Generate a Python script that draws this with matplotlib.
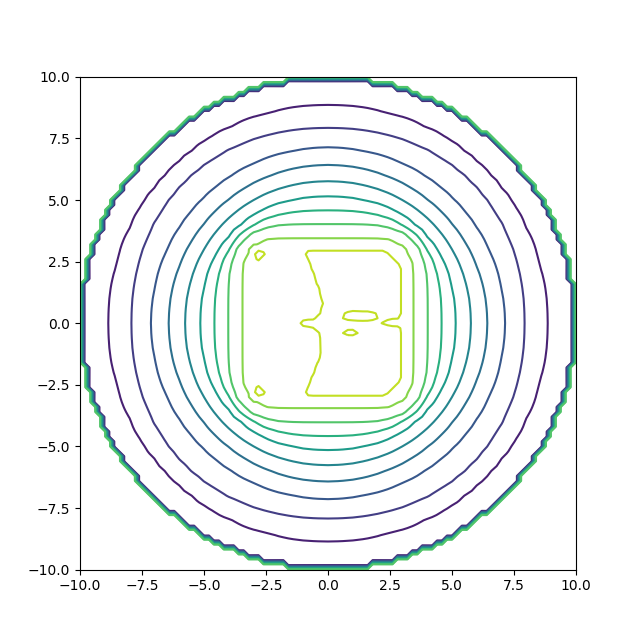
import numpy as np
import matplotlib.pyplot as plt

# contour levels (colours run over the whole 0..11 range)
levels = list(range(12))

level_z = [0.0, 1, 2, 3, 4, 5, 6, 7, 8, 9, 9.6, 9.9]
level_r = [10.3, 8.8, 7.92, 7.13, 6.42, 5.75, 5.14, 4.58, 4.02, 3.5, 2.5, 0.0]
level_p = [2.0, 2.05, 2.2, 2.0, 2.0, 2.1, 2.2, 2.7, 4.4, 8.7, 8.7, 8.7]

# outside the disc the field jumps up
edge_r = 9.95
outside_z = 8.5

# the "D" shaped plateau above level 10
plateau_z = 10.5
plateau_half = 2.95
plateau_cut = 5.25
plateau_left_y = [-2.9, -2.56, -1.89, -1.21, -0.47, -0.2, -0.06, 0.11, 0.34, 0.88, 1.49, 2.45, 2.95]
plateau_left_x = [-0.93, -0.79, -0.52, -0.26, -0.26, -0.59, -1.33, -0.59, -0.26, -0.19, -0.39, -0.73, -0.97]
corner_cut = 5.35

# small dips inside the plateau
dip_cx = [1.3, 0.9, 1.0, 2.75]
dip_cy = [0.28, -0.38, 0.72, 0.03]
dip_rx = [0.75, 0.3, 0.18, 0.6]
dip_ry = [0.22, 0.16, 0.06, 0.16]

# coarse grid the smooth part is sampled on, fine grid it is drawn on
xc = np.linspace(-10, 10, 41)
x = np.linspace(-10, 10, 101)

XC, YC = np.meshgrid(xc, xc)
AX, AY = np.abs(XC), np.abs(YC)
G = np.array([(AX**p + AY**p)**(1.0 / p) - r for p, r in zip(level_p, level_r)])
z = np.array(level_z)
j = (G <= 0).sum(axis=0) - 1
jc = np.clip(j, 0, len(z) - 2)
g0 = np.take_along_axis(G, jc[None], 0)[0]
g1 = np.take_along_axis(G, (jc + 1)[None], 0)[0]
t = np.clip(-g0 / (g1 - g0), 0, 1)
Zc = z[jc] + t * (z[jc + 1] - z[jc])

# bilinear resample onto the fine grid
rows = np.array([np.interp(x, xc, r) for r in Zc])
Z = np.array([np.interp(x, xc, c) for c in rows.T]).T

X, Y = np.meshgrid(x, x)
Z[np.hypot(X, Y) > edge_r] = outside_z

xl = np.interp(Y, plateau_left_y, plateau_left_x)
s_d = np.minimum.reduce([X - xl, plateau_half - np.abs(Y), plateau_half - X,
                         (plateau_cut - X - np.abs(Y)) / np.sqrt(2)])
s_t = np.minimum.reduce([(np.abs(Y) - X - corner_cut) / np.sqrt(2), X + plateau_half,
                         plateau_half - np.abs(Y)])
s = np.maximum(s_d, s_t)
for cx, cy, rx, ry in zip(dip_cx, dip_cy, dip_rx, dip_ry):
    e = np.hypot((X - cx) / rx, (Y - cy) / ry)
    s = np.where(s_d > 0, np.minimum(s, (e - 1) * min(rx, ry)), s)
band = s > -0.21
Z = np.where(band, np.maximum(Z, np.minimum(10 + 4 * s, plateau_z)), Z)

plt.figure(figsize=(6.4, 6.4))
plt.contour(X, Y, Z, levels=levels)
plt.savefig('out.png')
